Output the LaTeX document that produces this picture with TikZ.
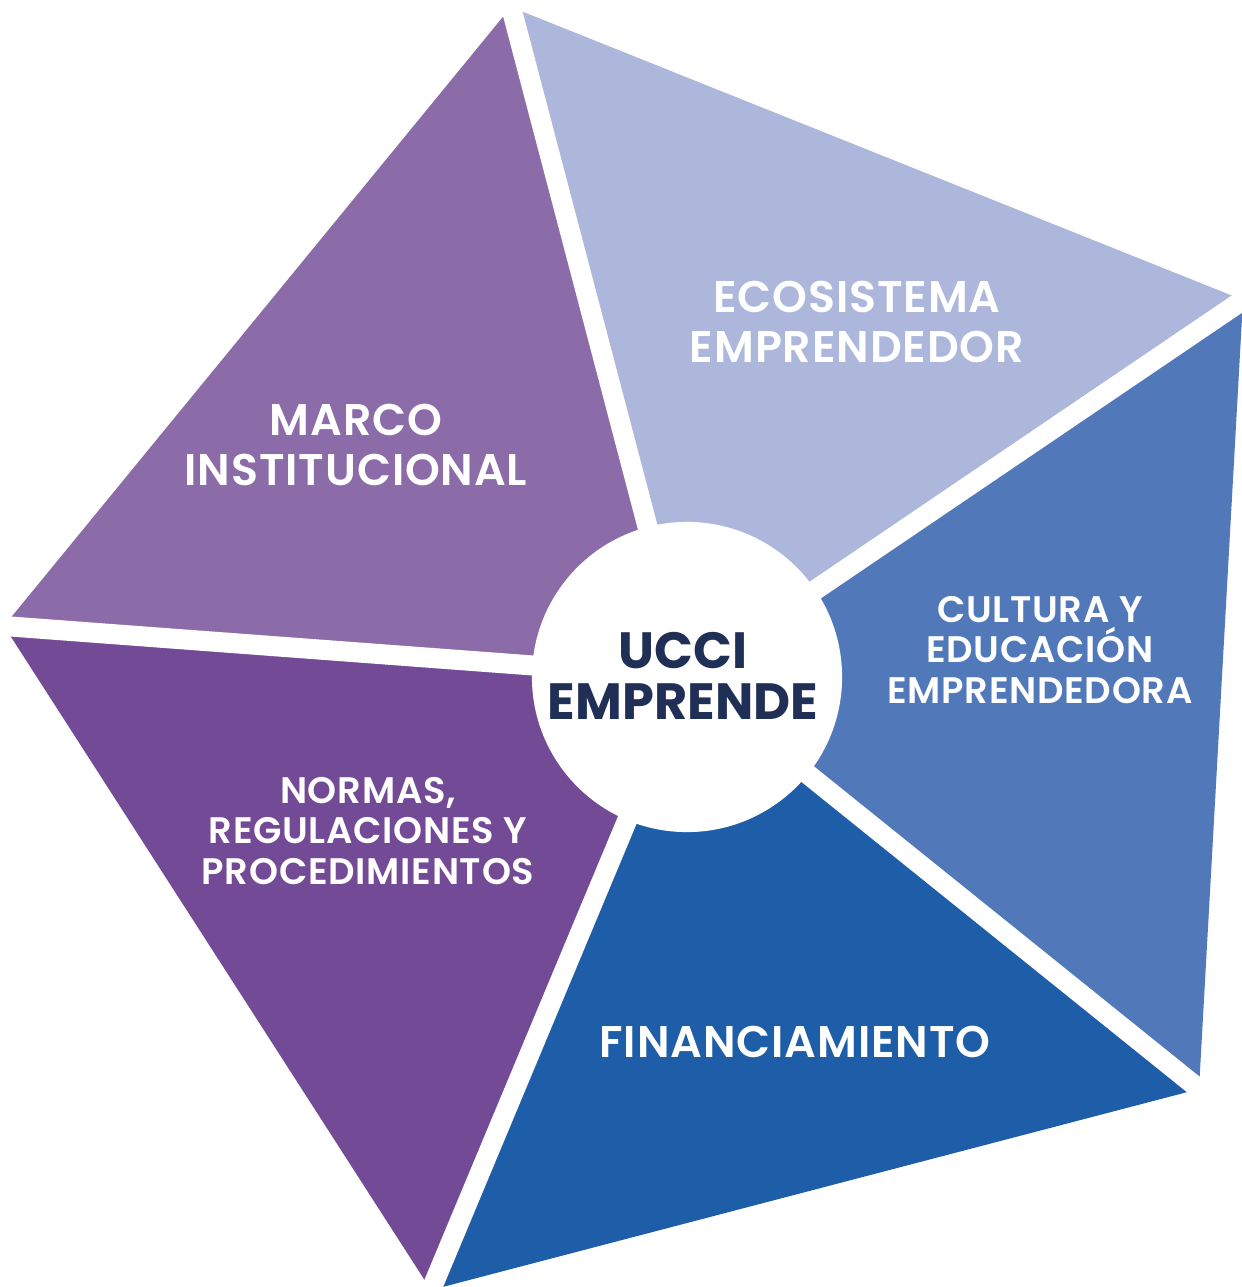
\documentclass[tikz,border=0pt]{standalone}
\usepackage{fontspec}
\setmainfont{Poppins}[BoldFont={Poppins SemiBold}, BoldFeatures={LetterSpace=2.0}]
\newfontfamily\popheavy{Poppins Bold}
\usepackage{tikz}
\usetikzlibrary{calc}
\definecolor{marco}{RGB}{139, 108, 169}
\definecolor{ecosis}{RGB}{173, 183, 219}
\definecolor{cultura}{RGB}{81, 120, 184}
\definecolor{finan}{RGB}{30, 93, 167}
\definecolor{normas}{RGB}{115, 74, 149}
\definecolor{navy}{RGB}{31, 47, 85}

\tikzset{
  biglabel/.style={text=white, align=center, font=\bfseries\fontsize{12.6}{14}\selectfont},
  smalllabel/.style={text=white, align=center, font=\bfseries\fontsize{10.5}{11.6}\selectfont},
  gap/.style={white, line width=5.7pt}
}

\begin{document}
\begin{tikzpicture}[x=0.01cm, y=-0.01cm]
  \useasboundingbox (0,0) rectangle (1242,1287);

  \coordinate (o) at (687,677);
  \coordinate (top) at (511,7);
  \coordinate (right) at (1243,300);
  \coordinate (lowright) at (1199,1089);
  \coordinate (bottom) at (431,1290);
  \coordinate (left) at (4,626);

  \fill[marco] (o) -- (left) -- (top) -- cycle;
  \fill[ecosis] (o) -- (top) -- (right) -- cycle;
  \fill[cultura] (o) -- (right) -- (lowright) -- cycle;
  \fill[finan] (o) -- (lowright) -- (bottom) -- cycle;
  \fill[normas] (o) -- (bottom) -- (left) -- cycle;

  \foreach \v in {top, right, lowright, bottom, left} {
    \draw[gap] (o) -- ($(o)!1.05!(\v)$);
  }
  \fill[white] (o) circle (1.55cm);

  \node[biglabel] (marcotxt) at (356,445) {MARCO\\INSTITUCIONAL};
  \node[biglabel] (ecotxt) at (857,322) {ECOSISTEMA\\EMPRENDEDOR};
  \node[smalllabel] (cultxt) at (1040,650) {CULTURA Y\\EDUCACIÓN\\EMPRENDEDORA};
  \node[biglabel] (fintxt) at (795,1042) {FINANCIAMIENTO};
  \node[smalllabel] (normtxt) at (368,831) {NORMAS,\\REGULACIONES Y\\PROCEDIMIENTOS};
  \node[text=navy, align=center, font=\popheavy\fontsize{14.5}{14.5}\selectfont] (ucci) at (683,676) {UCCI\\EMPRENDE};
\end{tikzpicture}
\end{document}
